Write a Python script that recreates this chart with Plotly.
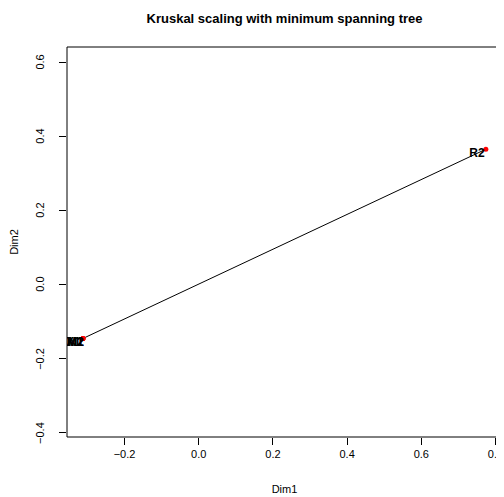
import plotly.graph_objects as go

# Data
labels = ["X1", "M1", "N1", "M2", "R2"]
dim1 = [-0.312, -0.312, -0.312, -0.312, 0.774]
dim2 = [-0.145, -0.145, -0.145, -0.145, 0.366]
label_x = [-0.338, -0.333, -0.331, -0.332, 0.750]
label_y = [-0.157, -0.158, -0.157, -0.158, 0.354]
# minimum spanning tree edges (index pairs)
edges = [(0, 1), (1, 2), (2, 3), (3, 4)]

xticks = [-0.2, 0.0, 0.2, 0.4, 0.6, 0.8]
xticklabels = ["\u22120.2", "0.0", "0.2", "0.4", "0.6", "0.8"]
yticks = [-0.4, -0.2, 0.0, 0.2, 0.4, 0.6]
yticklabels = ["\u22120.4", "\u22120.2", "0.0", "0.2", "0.4", "0.6"]

fig = go.Figure()

ex, ey = [], []
for a, b in edges:
    ex += [dim1[a], dim1[b], None]
    ey += [dim2[a], dim2[b], None]
fig.add_trace(go.Scatter(x=ex, y=ey, mode="lines",
                         line=dict(color="black", width=1), hoverinfo="skip"))
fig.add_trace(go.Scatter(x=dim1, y=dim2, mode="markers",
                         marker=dict(color="red", size=5)))
fig.add_trace(go.Scatter(x=label_x, y=label_y, mode="text",
                         text=["<b>" + t + "</b>" for t in labels],
                         textfont=dict(family="Liberation Sans", size=12, color="black"),
                         textposition="middle center"))

tickfont = dict(family="Liberation Sans", size=11, color="black")
axis_common = dict(showgrid=False, zeroline=False, ticks="outside", ticklen=7,
                   tickcolor="black", tickwidth=1, showline=False, automargin=False,
                   tickfont=tickfont)

annotations = [dict(xref="paper", yref="y", x=0, y=v, text=t, showarrow=False,
                    textangle=-90, xanchor="center", yanchor="middle", xshift=-27,
                    font=tickfont)
               for v, t in zip(yticks, yticklabels)]

fig.update_layout(
    width=496, height=489,
    margin=dict(l=59, r=2, t=39, b=60),
    paper_bgcolor="white", plot_bgcolor="white",
    showlegend=False,
    title=dict(text="<b>Kruskal scaling with minimum spanning tree</b>",
               x=0.5575, xanchor="center", y=0.9796, yanchor="middle",
               font=dict(family="Liberation Sans", size=13, color="black")),
    xaxis=dict(range=[-0.355, 0.8175], tickvals=xticks, ticktext=xticklabels,
               title=dict(text="Dim1", standoff=26,
                          font=dict(family="Liberation Sans", size=11, color="black")),
               **axis_common),
    yaxis=dict(range=[-0.411, 0.642], tickvals=yticks, showticklabels=False,
               title=dict(text="Dim2", standoff=39,
                          font=dict(family="Liberation Sans", size=11, color="black")),
               **axis_common),
    annotations=annotations,
    shapes=[dict(type="rect", xref="paper", yref="paper", x0=0, y0=0, x1=1, y1=1,
                 line=dict(color="black", width=1))],
)

fig.write_html("out.html")
